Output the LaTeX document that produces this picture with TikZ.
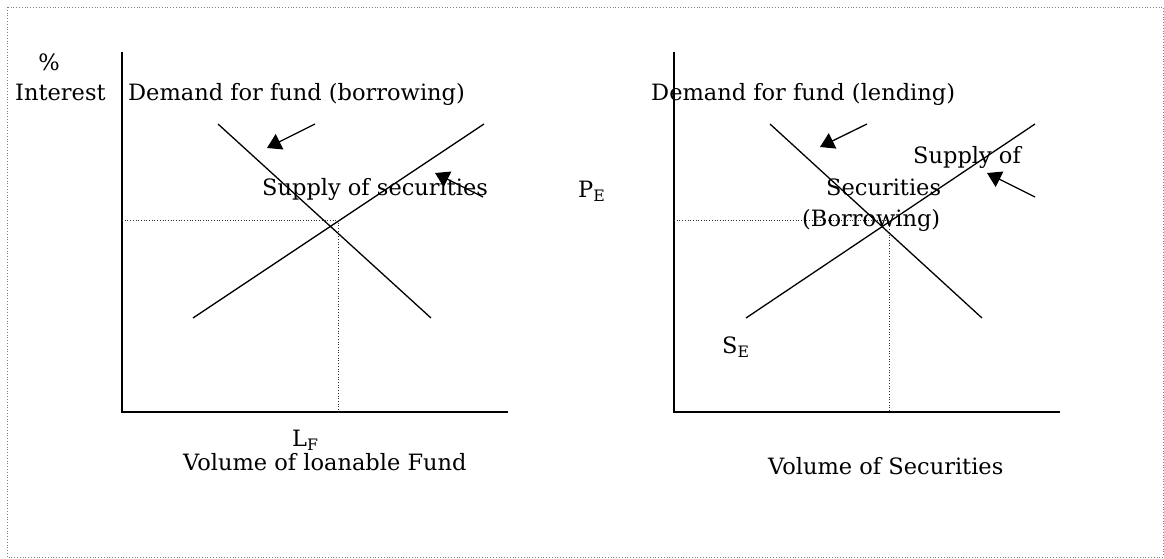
\documentclass[tikz,border=0pt]{standalone}
\usepackage{fontspec}
\setmainfont{DejaVu Serif}
\usetikzlibrary{arrows.meta}
\begin{document}
\begin{tikzpicture}[x=1pt,y=-1pt,
  lbl/.style={inner sep=0pt,anchor=base west,font=\fontsize{22.5}{26}\selectfont},
  axis/.style={line width=1.5pt},
  curve/.style={line width=1.3pt},
  guide/.style={line width=0.7pt,dotted,black!80},
  frame/.style={line width=0.8pt,dotted,gray},
  pointer/.style={line width=1.3pt,-{Triangle[width=17pt,length=14pt]}}]
\useasboundingbox (0,0) rectangle (1164,559);
\draw[frame] (7,7) rectangle (1163,557);
% ---- left chart ----
\coordinate (LyT) at (122,52);
\coordinate (LO) at (122,412);
\coordinate (LxR) at (508,412);
\draw[axis] (LyT) -- (LO) -- (LxR);
\coordinate (LD1) at (218,124); \coordinate (LD2) at (431,318);
\coordinate (LS1) at (193,318); \coordinate (LS2) at (484,124);
\draw[curve] (LD1) -- (LD2);
\draw[curve] (LS1) -- (LS2);
\coordinate (LE) at (338,220);
\coordinate (LEy) at (122,220);
\coordinate (LEx) at (338,412);
\draw[guide] (LEy) -- (LE) -- (LEx);
\coordinate (La1) at (315,124); \coordinate (La1t) at (267,148);
\coordinate (La2) at (483,197); \coordinate (La2t) at (435,173);
\draw[pointer] (La1) -- (La1t);
\draw[pointer] (La2) -- (La2t);
\node[lbl,anchor=center] (pct) at (49,62) {\%};
\node[lbl] (int) at (15,101) {Interest};
\node[lbl] (dfb) at (128,101) {Demand for fund (borrowing)};
\node[lbl] (sos) at (262,195) {Supply of securities};
\node[lbl] (lf) at (292,446) {L\textsubscript{F}};
\node[lbl] (vlf) at (183,470) {Volume of loanable Fund};
% ---- right chart ----
\coordinate (RyT) at (674,52);
\coordinate (RO) at (674,412);
\coordinate (RxR) at (1060,412);
\draw[axis] (RyT) -- (RO) -- (RxR);
\coordinate (RD1) at (770,124); \coordinate (RD2) at (982,318);
\coordinate (RS1) at (746,318); \coordinate (RS2) at (1035,124);
\draw[curve] (RD1) -- (RD2);
\draw[curve] (RS1) -- (RS2);
\coordinate (RE) at (889,220);
\coordinate (REy) at (674,220);
\coordinate (REx) at (889,412);
\draw[guide] (REy) -- (RE) -- (REx);
\coordinate (Ra1) at (867,124); \coordinate (Ra1t) at (820,147);
\coordinate (Ra2) at (1035,197); \coordinate (Ra2t) at (987,173);
\draw[pointer] (Ra1) -- (Ra1t);
\draw[pointer] (Ra2) -- (Ra2t);
\node[lbl] (dfl) at (651,101) {Demand for fund (lending)};
\node[lbl] (supof) at (913,163) {Supply of};
\node[lbl] (secu) at (826,195) {Securities};
\node[lbl] (borr) at (802,226) {(Borrowing)};
\node[lbl] (pe) at (578,197) {P\textsubscript{E}};
\node[lbl] (se) at (722,353) {S\textsubscript{E}};
\node[lbl] (vos) at (768,474) {Volume of Securities};
\end{tikzpicture}
\end{document}
